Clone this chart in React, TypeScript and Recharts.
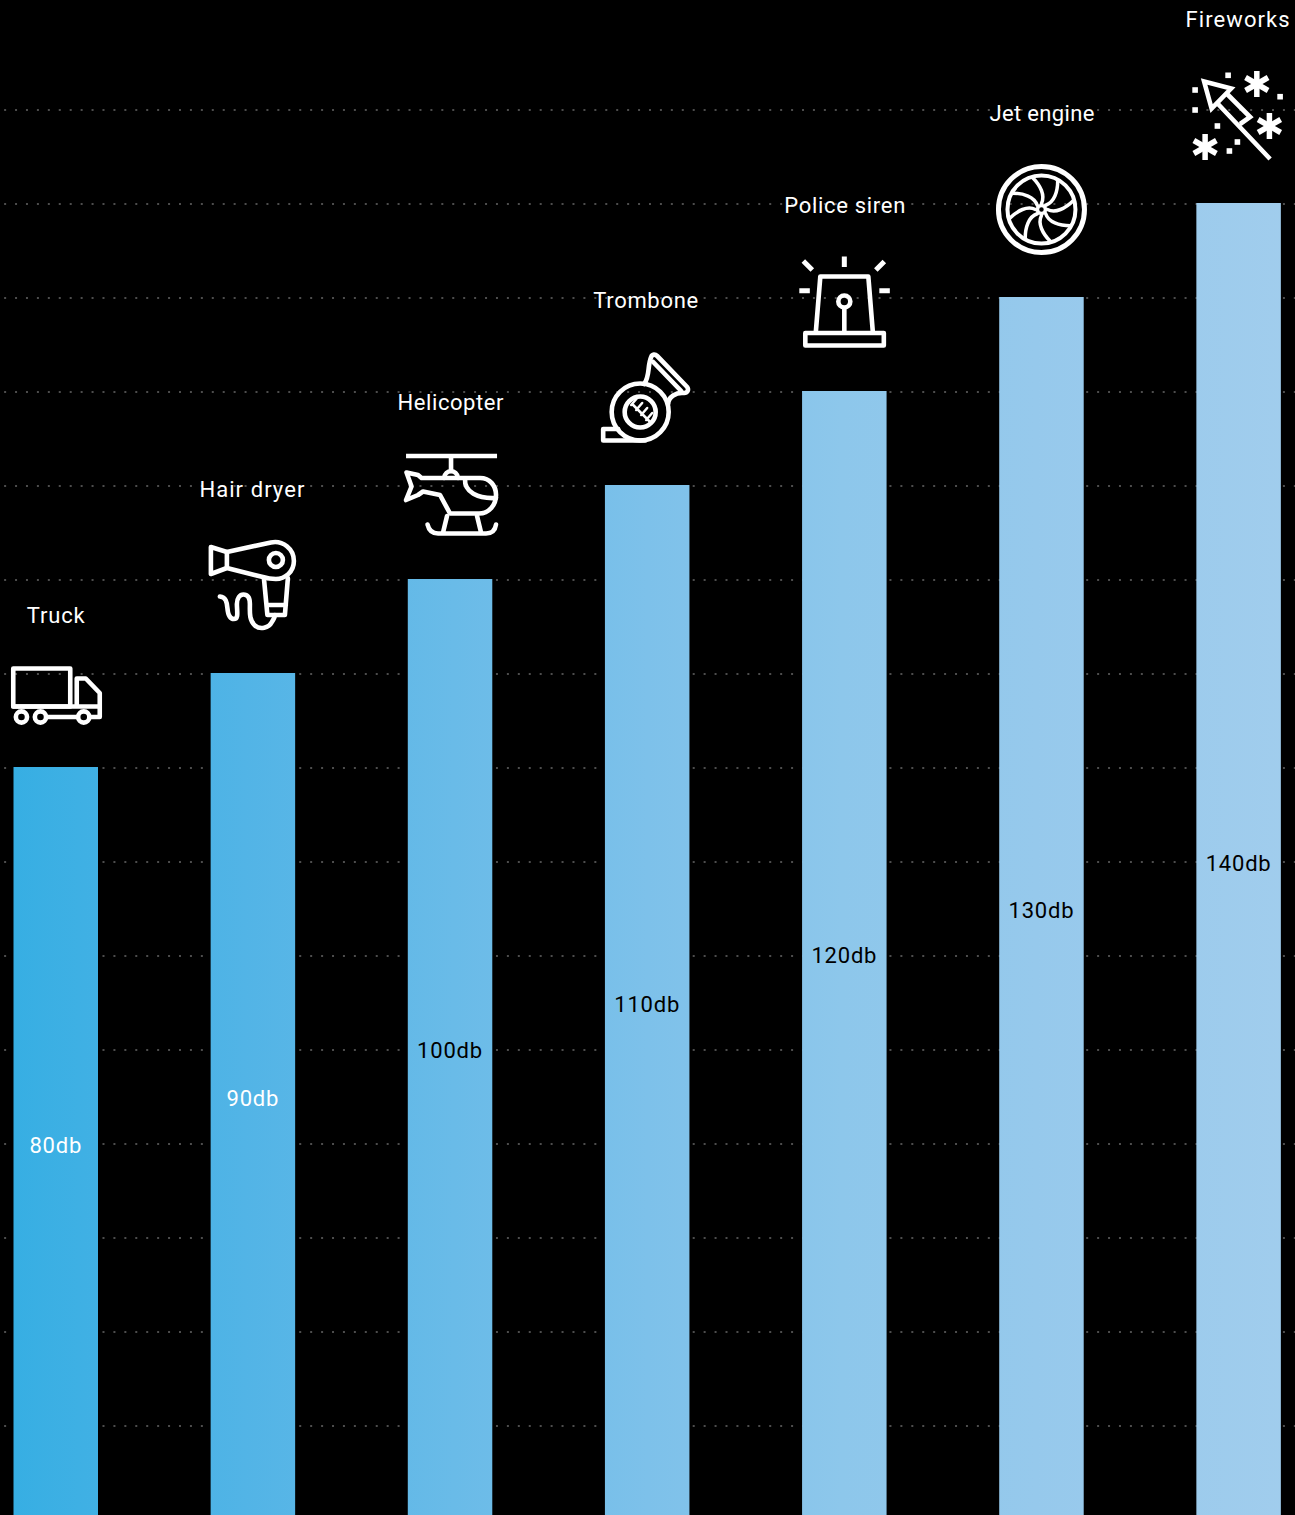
import React from "react";
import { BarChart, Bar, XAxis, YAxis, CartesianGrid, LabelList } from "recharts";

const categories = ["Truck", "Hair dryer", "Helicopter", "Trombone", "Police siren", "Jet engine", "Fireworks"];
const decibels = [80, 90, 100, 110, 120, 130, 140];
const yTicks = [0, 10, 20, 30, 40, 50, 60, 70, 80, 90, 100, 110, 120, 130, 140, 150];
const yMax = 150;
const nameLift = [144, 176, 169, 177, 178, 176, 176];
const nameNudgeX = [0, -1, 0.5, -1.5, 0.5, 0.5, -1];
const nameWidths = [58, 105, 106, 105, 121, 105, 104];
const valueNudge = [10, 10, 9, 10, 8, 10, 10];

const chartData = categories.map((name, i) => ({ name, db: decibels[i] }));

const FONT = "Roboto, sans-serif";
const STROKE = { fill: "none", stroke: "#fff", strokeWidth: 4.6, strokeLinecap: "round", strokeLinejoin: "round" } as const;

function Asterisk({ x, y }: { x: number; y: number }) {
  return (
    <g transform={`translate(${x} ${y})`} stroke="#fff" strokeWidth={5.5}>
      {[0, 60, 120].map((a) => (
        <line key={a} x1={0} y1={-13} x2={0} y2={13} transform={`rotate(${a})`} />
      ))}
    </g>
  );
}

const icons: React.ReactNode[] = [
  <g {...STROKE} key="truck" transform="translate(-56 -767)">
    <rect x={13.5} y={668.5} width={57} height={38} />
    <path d="M13.5 706.5H100M77 706V678.5H86L100 693V717H90M46.500 717H78" />
    <circle cx={21.7} cy={717} r={5.6} />
    <circle cx={40.7} cy={717} r={5.6} />
    <circle cx={84} cy={717} r={5.6} />
  </g>,
  <g {...STROKE} key="dryer" transform="translate(-253 -673)">
    <path d="M211 547L227 552L271 542.500C283 540 294 549 294 561C294 572 285 579 276 579C272 579 268 578.500 263 577L227 568L211 574Z" />
    <path d="M227 552V568" />
    <circle cx={276} cy={560} r={7} />
    <path d="M264 578L267.500 615H285L288 578M267 605H286" />
    <path d="M220 596.500C226 597 227 602 227.500 608C228 614 230 619 234 619C239 619 237 611 237 604C237 598 240 594.500 243.500 594.500C248 594.500 250 598 250 604C250 612 249 620 255 625.500C260 630 269 628 272 622C274 619 275 617 275 615" />
  </g>,
  <g {...STROKE} key="heli" transform="translate(-450 -579)">
    <path d="M406 456H497M451 456V471" strokeLinecap="butt" />
    <path d="M444 478C445 469 457 469 458 478" />
    <path d="M421.500 478H480C490 478 496 486 496 495C496 505 489 513.500 479 513.500H450L440 495L423 491.500L418 495L406 500L411.500 486.500L406.500 472.500L418 475Z" />
    <path d="M465 479C464 492 478 499 496 498" />
    <path d="M447 516L443 532.500M477 516L481 532.500M427.500 524.500C429 531 433 533.500 438 533.500H486C491 533.500 495 531 496 524.500" />
  </g>,
  <g {...STROKE} key="trombone" transform="translate(-647 -485)">
    <circle cx={640} cy={412} r={28.500} />
    <circle cx={640} cy={412} r={15.500} />
    <g strokeWidth={2.500}>
      <path d="M632 404L650 422M637 398L631 405M642 403L636 410M647 408L641 415M652 413L646 420" />
    </g>
    <path d="M644 384C650 376 647 366 651 357C652 354 655 354 657 356L687 387C689 390 687 393 684 393C676 392 668 397 668 404" />
    <path d="M653 362L681 391" />
    <path d="M618 429H603V440.500H645" />
  </g>,
  <g {...STROKE} key="siren" transform="translate(-844 -391)">
    <g strokeWidth={5} strokeLinecap="butt">
      <path d="M844 256.500V267M803 261L812 270M884 261.500L875.500 270M799 290.700H809.500M879 290.700H889.500" />
    </g>
    <path d="M815.500 332L820 276.500H868L872.500 332" />
    <rect x={805} y={333} width={78.500} height={12.500} />
    <circle cx={844} cy={301.500} r={6} />
    <path d="M844 308V332" />
  </g>,
  <g key="jet" transform="translate(-1041 -297)">
    <g {...STROKE}>
      <circle cx={1041} cy={209.500} r={43} strokeWidth={5} />
      <circle cx={1041} cy={209.500} r={34} strokeWidth={4} />
      <circle cx={1041} cy={209.500} r={4} strokeWidth={3.500} />
      {[0, 45, 90, 135, 180, 225, 270, 315].map((a) => (
        <path key={a} strokeWidth={3.500} transform={`translate(1041 209.500) rotate(${a})`} d="M0 -6C4 -14 -1 -24 -9 -32" />
      ))}
    </g>
  </g>,
  <g key="fireworks" transform="translate(-1238.500 -203)">
    <g {...STROKE} strokeLinecap="butt" strokeLinejoin="miter">
      <path d="M1204 81.500L1231 88.500L1211.500 108.500Z" />
      <path d="M1227 94L1250 117L1240 124M1217 103L1270 159" />
    </g>
    <Asterisk x={1256.700} y={84} />
    <Asterisk x={1269.300} y={126} />
    <Asterisk x={1205} y={147} />
    <g fill="#fff">
      {[[1228, 75.300], [1280, 96.700], [1195, 90], [1195, 110], [1217.300, 126], [1237.300, 142], [1229.300, 151]].map(([x, y]) => (
        <rect key={`${x}-${y}`} x={x - 2.800} y={y - 2.800} width={5.600} height={5.600} />
      ))}
    </g>
  </g>,
];

function TopDecor(props: any) {
  const { x, y, width, index } = props;
  const cx = x + width / 2;
  return (
    <g>
      <g transform={`translate(${cx} ${y})`}>{icons[index]}</g>
      <text x={cx + nameNudgeX[index]} y={y - nameLift[index]} textAnchor="middle" fill="#fff" fontFamily={FONT} fontSize={22} textLength={nameWidths[index]} lengthAdjust="spacing">
        {categories[index]}
      </text>
    </g>
  );
}

function ValueLabel(props: any) {
  const { x, y, width, height, index } = props;
  const value = decibels[index];
  return (
    <text x={x + width / 2} y={y + height / 2 + valueNudge[index]} textAnchor="middle" fill={value < 100 ? "#fff" : "#000"} fontFamily={FONT} fontSize={22} letterSpacing={0.8}>
      {`${value}db`}
    </text>
  );
}

export default function App() {
  return (
    <div style={{ position: "absolute", left: 0, top: 0, width: 1295, height: 1515, overflow: "hidden", background: "#000" }}>
      <style>{`html,body{margin:0;padding:0;background:#000;overflow:hidden}`}</style>
      <BarChart width={1295} height={1515} data={chartData} margin={{ top: 109, right: -42.500, bottom: -4, left: -42.500 }} barCategoryGap={0}>
        <defs>
          <linearGradient id="barFill" gradientUnits="userSpaceOnUse" x1={0} y1={0} x2={1295} y2={0}>
            <stop offset="0%" stopColor="#35AEE3" />
            <stop offset="19%" stopColor="#52B4E6" />
            <stop offset="35%" stopColor="#69BBE8" />
            <stop offset="50%" stopColor="#7DC1EA" />
            <stop offset="65%" stopColor="#8DC7EB" />
            <stop offset="80%" stopColor="#96C9EC" />
            <stop offset="100%" stopColor="#A1CDED" />
          </linearGradient>
        </defs>
        <CartesianGrid
          vertical={false}
          stroke="#4d4d4d"
          strokeWidth={2}
          strokeDasharray="2 8.930"
          strokeDashoffset={-2.900}
          horizontalCoordinatesGenerator={({ offset }: any) => yTicks.map((t) => offset.top + offset.height * (1 - t / yMax) + 1)}
        />
        <XAxis dataKey="name" hide />
        <YAxis hide domain={[0, yMax]} ticks={yTicks} />
        <Bar dataKey="db" barSize={84.500} fill="url(#barFill)" isAnimationActive={false}>
          <LabelList dataKey="db" content={<TopDecor />} />
          <LabelList dataKey="db" content={<ValueLabel />} />
        </Bar>
      </BarChart>
    </div>
  );
}
